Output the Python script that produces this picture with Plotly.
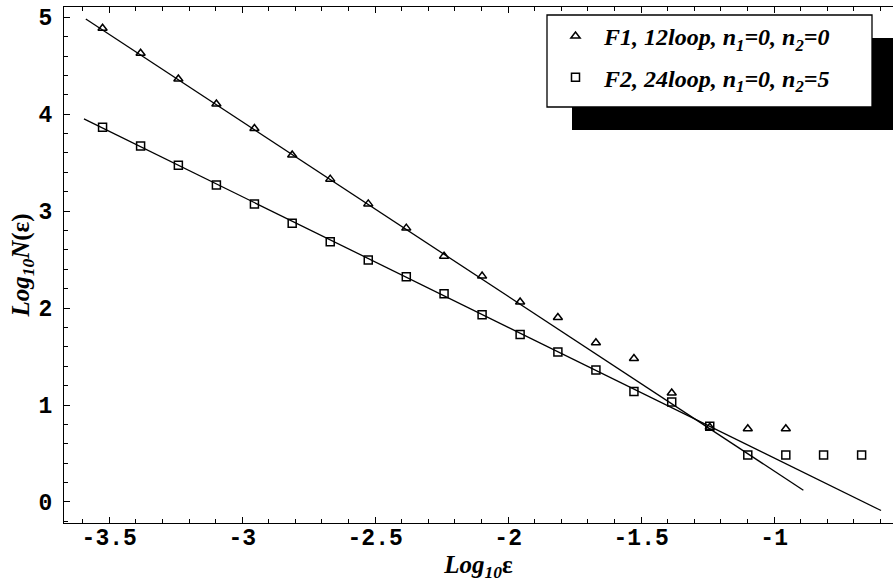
import numpy as np
import plotly.graph_objects as go

# ---- data ----
log_eps = [-3.525, -3.382, -3.240, -3.097, -2.954, -2.812, -2.669, -2.526,
           -2.383, -2.241, -2.098, -1.955, -1.813, -1.670, -1.527, -1.385,
           -1.242, -1.099, -0.956, -0.814, -0.671]
log_n_f1 = [4.887, 4.629, 4.364, 4.106, 3.852, 3.580, 3.330, 3.075, 2.825,
            2.536, 2.330, 2.062, 1.903, 1.642, 1.480, 1.124, 0.770, 0.756, 0.756]
log_n_f2 = [3.866, 3.673, 3.474, 3.270, 3.075, 2.876, 2.684, 2.495, 2.323,
            2.147, 1.931, 1.728, 1.546, 1.361, 1.140, 1.031, 0.780, 0.485,
            0.485, 0.485, 0.485]

f1_name = "F1, 12loop, n<sub>1</sub>=0, n<sub>2</sub>=0"
f2_name = "F2, 24loop, n<sub>1</sub>=0, n<sub>2</sub>=5"

fit_f1_slope, fit_f1_intercept = -1.802, -1.483
fit_f1_xrange = [-3.588, -0.890]
fit_f2_slope, fit_f2_intercept = -1.348, -0.894
fit_f2_xrange = [-3.595, -0.598]

x_tick_vals = [-3.5, -3.0, -2.5, -2.0, -1.5, -1.0]
x_tick_text = ["-3.5", "-3", "-2.5", "-2", "-1.5", "-1"]
y_tick_vals = [0, 1, 2, 3, 4, 5]
y_tick_text = ["0", "1", "2", "3", "4", "5"]

x_title = "<b><i>Log</i><sub><i>10</i></sub>ε</b>"
y_title = "<b><i>Log</i><sub><i>10</i></sub><i>N</i>(ε)</b>"

# ---- figure ----
W, H = 893, 582
ML, MR, MT, MB = 64, 0, 7, 59


def px_x(p):
    return (p - ML) / (W - ML - MR)


def px_y(p):
    return (H - MB - p) / (H - MT - MB)


fig = go.Figure()

fx1 = np.array(fit_f1_xrange)
fx2 = np.array(fit_f2_xrange)
fig.add_trace(go.Scatter(x=fx1, y=fit_f1_intercept + fit_f1_slope * fx1,
                         mode="lines", line=dict(color="black", width=1.3),
                         showlegend=False, hoverinfo="skip"))
fig.add_trace(go.Scatter(x=fx2, y=fit_f2_intercept + fit_f2_slope * fx2,
                         mode="lines", line=dict(color="black", width=1.3),
                         showlegend=False, hoverinfo="skip"))

fig.add_trace(go.Scatter(x=log_eps[:len(log_n_f1)], y=log_n_f1, mode="markers",
                         name=f1_name, legendgroup="a",
                         marker=dict(symbol="triangle-up-open", size=8,
                                     color="black", line=dict(width=1.5, color="black"))))
fig.add_trace(go.Scatter(x=log_eps, y=log_n_f2, mode="markers",
                         name=f2_name, legendgroup="b",
                         marker=dict(symbol="square-open", size=8,
                                     color="black", line=dict(width=1.5, color="black"))))

tick_font = dict(family="Liberation Mono", size=23, color="black", weight="bold")
title_font = dict(family="Liberation Serif", size=25, color="black")

fig.update_layout(
    width=W, height=H,
    margin=dict(l=ML, r=MR, t=MT, b=MB, autoexpand=False),
    paper_bgcolor="white", plot_bgcolor="white",
    xaxis=dict(range=[-3.67, -0.553], showgrid=False, zeroline=False,
               showline=True, linecolor="black", linewidth=1.3, mirror="ticks",
               ticks="inside", ticklen=6, tickwidth=1.2, tickcolor="black",
               tickmode="array", tickvals=x_tick_vals, ticktext=x_tick_text,
               minor=dict(dtick=0.1, tick0=0, ticks="inside", ticklen=3.5,
                          tickwidth=1, tickcolor="black", showgrid=False),
               tickfont=tick_font, ticklabelstandoff=-7,
               title=dict(text=x_title, font=title_font, standoff=0)),
    yaxis=dict(range=[-0.217, 5.106], showgrid=False, zeroline=False,
               showline=True, linecolor="black", linewidth=1.3, mirror=False,
               ticks="inside", ticklen=6, tickwidth=1.2, tickcolor="black",
               tickmode="array", tickvals=y_tick_vals, ticktext=y_tick_text,
               minor=dict(dtick=0.2, tick0=0, ticks="inside", ticklen=3.5,
                          tickwidth=1, tickcolor="black", showgrid=False),
               tickfont=tick_font, ticklabelstandoff=6,
               title=dict(text=y_title, font=title_font, standoff=1)),
    legend=dict(x=px_x(547), y=px_y(14), xanchor="left", yanchor="top",
                bgcolor="rgba(0,0,0,0)", borderwidth=0,
                itemwidth=47, tracegroupgap=7, traceorder="grouped",
                font=dict(family="Liberation Serif", size=24, color="black",
                          weight="bold", style="italic")),
    shapes=[
        dict(type="rect", xref="paper", yref="paper", layer="above",
             x0=px_x(572), x1=1.0, y0=px_y(130), y1=px_y(38),
             fillcolor="black", line=dict(width=0)),
        dict(type="rect", xref="paper", yref="paper", layer="above",
             x0=px_x(547), x1=px_x(872), y0=px_y(107), y1=px_y(15),
             fillcolor="white", line=dict(color="black", width=1.3)),
    ],
)

fig.write_html("out.html", config={"displayModeBar": False},
               post_script="document.body.style.margin='0';document.body.style.padding='0';")
